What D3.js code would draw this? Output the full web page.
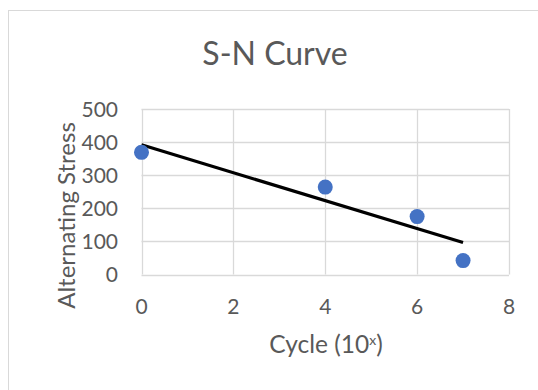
<!DOCTYPE html>
<html>
<head>
<meta charset="utf-8">
<script src="https://cdn.jsdelivr.net/npm/d3@7"></script>
<style>
  body { margin: 0; background: #fff; }
  svg text { font-family: Lato, "Open Sans", sans-serif; fill: #595959; }
</style>
</head>
<body>
<div class="chart"></div>
<script>
// data
var cycles = [0, 4, 6, 7];
var stress = [369, 264, 175, 42];
var xTicks = [0, 2, 4, 6, 8];
var yTicks = [0, 100, 200, 300, 400, 500];

var width = 538, height = 390;
var margin = {top: 109, right: 29, bottom: 115.5, left: 141.5};

var svg = d3.select(".chart")
  .append("svg")
    .attr("width", width)
    .attr("height", height);

// chart area border (runs off the right and bottom edge)
svg.append("rect")
  .attr("x", 8.5).attr("y", 10.5)
  .attr("width", 600).attr("height", 500)
  .attr("fill", "#fff")
  .attr("stroke", "#d9d9d9");

var x = d3.scaleLinear().domain([0, 8]).range([margin.left, width - margin.right]);
var y = d3.scaleLinear().domain([0, 500]).range([height - margin.bottom, margin.top]);

// gridlines
svg.append("g").selectAll("line.h")
  .data(yTicks).enter().append("line")
    .attr("x1", x(0)).attr("x2", x(8))
    .attr("y1", function(d) { return Math.round(y(d)) + 0.5; })
    .attr("y2", function(d) { return Math.round(y(d)) + 0.5; })
    .attr("stroke", "#d9d9d9").attr("stroke-width", 1.3);

svg.append("g").selectAll("line.v")
  .data(xTicks).enter().append("line")
    .attr("y1", y(0)).attr("y2", y(500))
    .attr("x1", function(d) { return Math.round(x(d)) + 0.5; })
    .attr("x2", function(d) { return Math.round(x(d)) + 0.5; })
    .attr("stroke", "#d9d9d9").attr("stroke-width", 1.3);

// tick labels
svg.append("g").selectAll("text")
  .data(yTicks).enter().append("text")
    .attr("x", 118)
    .attr("y", function(d) { return y(d); })
    .attr("dy", "0.36em")
    .attr("text-anchor", "end")
    .style("font-size", "21px")
    .text(function(d) { return d; });

svg.append("g").selectAll("text")
  .data(xTicks).enter().append("text")
    .attr("x", function(d) { return x(d); })
    .attr("y", 314)
    .attr("text-anchor", "middle")
    .style("font-size", "21px")
    .text(function(d) { return d; });

// linear trendline (least squares through the points)
var mx = d3.mean(cycles), my = d3.mean(stress);
var sxy = d3.sum(cycles, function(c, i) { return (c - mx) * (stress[i] - my); });
var sxx = d3.sum(cycles, function(c) { return (c - mx) * (c - mx); });
var slope = sxy / sxx, icept = my - slope * mx;
var xExt = d3.extent(cycles);

svg.append("line")
  .attr("x1", x(xExt[0])).attr("y1", y(icept + slope * xExt[0]))
  .attr("x2", x(xExt[1])).attr("y2", y(icept + slope * xExt[1]))
  .attr("stroke", "#000")
  .attr("stroke-width", 3.2);

// points
svg.append("g").selectAll("circle")
  .data(cycles).enter().append("circle")
    .attr("cx", function(d) { return x(d); })
    .attr("cy", function(d, i) { return y(stress[i]); })
    .attr("r", 7.5)
    .attr("fill", "#4472c4");

// titles
svg.append("text")
  .attr("x", 275).attr("y", 65)
  .attr("text-anchor", "middle")
  .style("font-size", "32px")
  .text("S-N Curve");

var xt = svg.append("text")
  .attr("x", 326).attr("y", 353)
  .attr("text-anchor", "middle")
  .style("font-size", "24.5px");
xt.append("tspan").text("Cycle (10");
xt.append("tspan").attr("dy", -8).style("font-size", "14px").text("x");
xt.append("tspan").attr("dy", 8).text(")");

svg.append("text")
  .attr("transform", "translate(75,215.5) rotate(-90)")
  .attr("text-anchor", "middle")
  .style("font-size", "24px")
  .text("Alternating Stress");
</script>
</body>
</html>
